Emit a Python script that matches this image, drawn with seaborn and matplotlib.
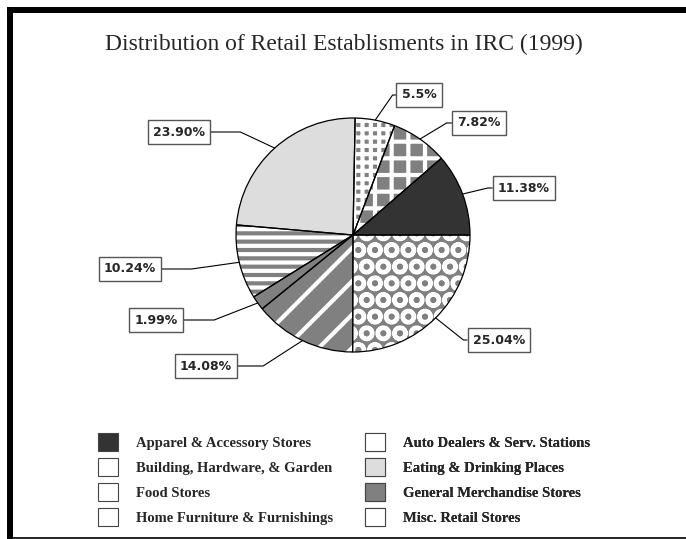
import matplotlib.pyplot as plt
import matplotlib.patches as mpatches
import seaborn as sns
import numpy as np

# Datos, en el orden de la leyenda
categories = ["Apparel & Accessory Stores", "Auto Dealers & Serv. Stations",
              "Building, Hardware, & Garden", "Eating & Drinking Places",
              "Food Stores", "General Merchandise Stores",
              "Home Furniture & Furnishings", "Misc. Retail Stores"]
shares = [11.38, 25.04, 5.5, 23.90, 10.24, 1.99, 14.08, 7.82]
share_labels = ["11.38%", "25.04%", "5.5%", "23.90%", "10.24%", "1.99%",
                "14.08%", "7.82%"]
# orden de las porciones, horario desde las 3
pie_order = [1, 6, 5, 4, 3, 2, 7, 0]

title = "Distribution of Retail Establisments in IRC (1999)"

# estilos
dark, gray, light = "#333333", "#808080", "#dddddd"
faces = [dark, gray, gray, light, gray, gray, gray, gray]
hatches = [None, "O", "++", None, "--", None, "/", "+"]
swatches = [dark, "white", "white", light, "white", gray, "white", "white"]
# posicion de las etiquetas (px, y hacia arriba) y largo del tramo horizontal
label_pos = [(524, 351), (499, 199), (419, 444), (179, 407),
             (130, 270), (156, 219), (206, 173), (479, 416)]
label_gap = [19, 18, 14, 54, 54, 54, 48, 18]

W, H = 686, 539
center = (353, 304)
radius = 117


def draw_chart():
    fig = plt.figure(figsize=(W / 100, H / 100), dpi=100)
    ax = fig.add_axes([0, 0, 1, 1])

    vals = [shares[i] for i in pie_order]
    wedges, _ = ax.pie(vals, startangle=0, counterclock=False,
                       center=center, radius=radius,
                       wedgeprops=dict(linewidth=0))
    for w, i in zip(wedges, pie_order):
        w.set_facecolor(faces[i])
        if hatches[i]:
            w.set_hatch(hatches[i])
            w.set_edgecolor("white")
        else:
            w.set_edgecolor(faces[i])
    # contornos
    ax.pie(vals, startangle=0, counterclock=False, center=center,
           radius=radius,
           wedgeprops=dict(facecolor="none", edgecolor="black", linewidth=0.9))

    anns = []
    for w, i in zip(wedges, pie_order):
        ang = np.deg2rad((w.theta1 + w.theta2) / 2)
        xy = (center[0] + radius * np.cos(ang), center[1] + radius * np.sin(ang))
        ann = ax.annotate(share_labels[i], xy=xy, xytext=label_pos[i],
                          ha="center", va="center", fontsize=9,
                          fontweight="bold", family="DejaVu Sans",
                          bbox=dict(boxstyle="square,pad=0.42", fc="white",
                                    ec="#555555", lw=1),
                          arrowprops=dict(arrowstyle="-", color="black",
                                          lw=0.8, shrinkA=0, shrinkB=0))
        anns.append((ann, i, xy))

    ax.set_xlim(0, W)
    ax.set_ylim(0, H)
    ax.set_aspect("equal")
    ax.axis("off")

    fig.canvas.draw()
    for ann, i, xy in anns:
        bb = ann.get_bbox_patch().get_window_extent()
        arm = round((bb.width / 2 + label_gap[i]) * 72 / fig.dpi, 1)
        side = 180 if label_pos[i][0] > center[0] else 0
        ann.arrow_patch.set_connectionstyle(
            "arc", angleA=side, angleB=0, armA=arm, armB=0, rad=0)

    # marco
    ax.plot([7, W], [H - 10, H - 10], color="black", lw=4.3,
            solid_capstyle="butt")
    ax.plot([10, 10], [H - 7, 0], color="black", lw=4.3,
            solid_capstyle="butt")
    ax.plot([13, W], [1, 1], color="black", lw=1.2, solid_capstyle="butt")

    ax.text(344, H - 44, title, ha="center", va="center", fontsize=17,
            family="Liberation Serif")

    # leyenda en dos columnas
    for col, anchor in enumerate([(98, 106), (365, 106)]):
        idx = [k for k in range(len(categories)) if k % 2 == col]
        handles = [mpatches.Patch(facecolor=swatches[k], edgecolor="#444444",
                                  linewidth=0.8, label=categories[k])
                   for k in idx]
        leg = ax.legend(handles=handles, loc="upper left",
                        bbox_to_anchor=anchor,
                        bbox_transform=ax.transData, frameon=False,
                        borderpad=0, borderaxespad=0, handlelength=1.37,
                        handleheight=1.52, handletextpad=1.23,
                        labelspacing=0.48,
                        prop=dict(family="Liberation Serif", weight="bold",
                                  size=10.5))
        ax.add_artist(leg)

    fig.savefig("out.png", dpi=100)


if __name__ == "__main__":
    sns.set_theme(style="white")
    plt.rcParams["hatch.linewidth"] = 3
    draw_chart()
